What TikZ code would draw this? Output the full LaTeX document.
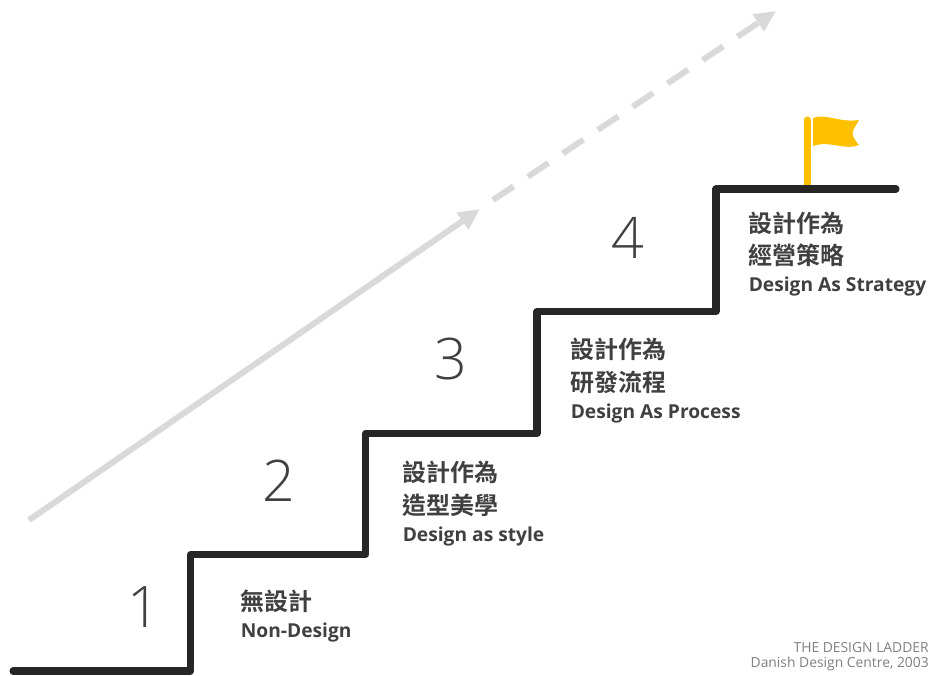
\documentclass[tikz,border=0pt]{standalone}
\usepackage{fontspec}
\setmainfont{Open Sans}
\newfontfamily\cjk{Noto Sans CJK TC}[BoldFont={* Bold}]
\newfontfamily\lightnum{Open Sans Light}
\definecolor{stair}{HTML}{262626}
\definecolor{txt}{HTML}{404040}
\definecolor{arrowgray}{HTML}{D9D9D9}
\definecolor{flag}{HTML}{FFC000}
\usetikzlibrary{arrows.meta}
\tikzset{
  x=0.75pt,y=-0.75pt,
  cjklabel/.style={anchor=west,inner sep=0,text=txt,font={\cjk\bfseries\fontsize{18pt}{22pt}\selectfont}},
  enlabel/.style={anchor=west,inner sep=0,text=txt,font={\bfseries\fontsize{14.4pt}{17pt}\selectfont}},
  numlabel/.style={anchor=center,inner sep=0,text=txt,font={\lightnum\fontsize{43pt}{47pt}\selectfont}},
  creditlabel/.style={anchor=east,inner sep=0,text=gray,font={\fontsize{10.4pt}{12pt}\selectfont}},
  stairline/.style={draw=stair,line width=5.3pt,line cap=round,line join=round},
  riseline/.style={draw=arrowgray,line width=4.5pt},
  tiphead/.style={-{Triangle[length=16pt,width=14.5pt]}},
}
\begin{document}
\begin{tikzpicture}
\useasboundingbox (0,0) rectangle (930,675);
% rising arrow
\coordinate (a0) at (29,520);
\coordinate (a1) at (480,209);
\coordinate (b0) at (493,200);
\coordinate (b1) at (776,11);
\draw[riseline,tiphead] (a0) -- (a1);
\draw[riseline,tiphead,dash pattern=on 18.5pt off 13pt] (b0) -- (b1);
% flag
\draw[draw=flag,line width=5.3pt,line cap=round] (807.5,120) -- (807.5,186);
\fill[flag] (813,118) .. controls (825,113) and (840,123) .. (859,120)
  .. controls (855,127) and (851,132) .. (853,136) .. controls (855,140) and (857,143) .. (859,145)
  .. controls (845,151) and (830,140) .. (813,146) -- cycle;
% stairs
\coordinate (s0) at (13,671);
\coordinate (s1) at (190.5,671);
\coordinate (s2) at (190.5,554.5);
\coordinate (s3) at (365.5,554.5);
\coordinate (s4) at (365.5,433.5);
\coordinate (s5) at (537,433.5);
\coordinate (s6) at (537,311.5);
\coordinate (s7) at (716,311.5);
\coordinate (s8) at (716,189);
\coordinate (s9) at (896,189);
\draw[stairline] (s0) -- (s1) -- (s2) -- (s3) -- (s4) -- (s5) -- (s6) -- (s7) -- (s8) -- (s9);
% numbers
\node[numlabel] (n1) at (144,607) {1};
\node[numlabel] (n2) at (279,481) {2};
\node[numlabel] (n3) at (451,359) {3};
\node[numlabel] (n4) at (628,238) {4};
% labels
\node[cjklabel] (l1a) at (240.5,601) {無設計};
\node[enlabel] (l1b) at (240.5,632) {Non-Design};
\node[cjklabel] (l2a) at (402.5,472) {設計作為};
\node[cjklabel] (l2b) at (402.5,505) {造型美學};
\node[enlabel] (l2c) at (402.5,537) {Design as style};
\node[cjklabel] (l3a) at (570.5,349) {設計作為};
\node[cjklabel] (l3b) at (570.5,382) {研發流程};
\node[enlabel] (l3c) at (570.5,414) {Design As Process};
\node[cjklabel] (l4a) at (748.5,223) {設計作為};
\node[cjklabel] (l4b) at (748.5,255) {經營策略};
\node[enlabel] (l4c) at (748.5,287) {Design As Strategy};
\node[creditlabel] (c1) at (929,648) {THE DESIGN LADDER};
\node[creditlabel] (c2) at (929,664) {Danish Design Centre, 2003};
\end{tikzpicture}
\end{document}
